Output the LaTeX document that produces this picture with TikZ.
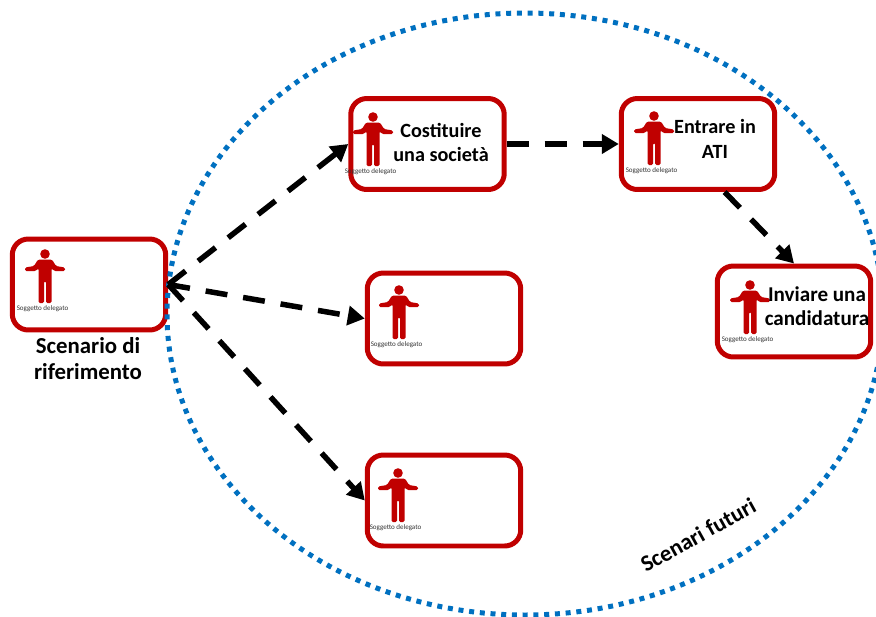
\documentclass[tikz,border=0pt]{standalone}
\usepackage{fontspec}
\setmainfont{Carlito}
\usetikzlibrary{arrows.meta}
\definecolor{boxred}{HTML}{C00000}
\definecolor{ringblue}{HTML}{0070C0}
\tikzset{scenario/.style={draw=boxred,line width=.1cm,rounded corners=.32cm,minimum width=3.07cm,minimum height=1.82cm},
 caption/.style={font=\fontsize{13}{15.2}\selectfont\bfseries,align=center},
 inner caption/.style={font=\fontsize{11.5}{13.8}\selectfont\bfseries,align=center},
 tiny label/.style={font=\fontsize{4}{4.5}\selectfont,text=black!80,inner sep=0pt},
 link/.style={-{Triangle[length=.34cm,width=.38cm]},line width=.11cm,dash pattern=on .44cm off .32cm},
 ring/.style={draw=ringblue,line width=.1cm,dash pattern=on .1cm off .115cm},
 personicon/.pic={
  \fill[boxred] (0,0) circle (4.8);
  \fill[boxred,rounded corners=.03cm] (0,5.5) -- (7,5.5) -- (11,12) -- (20,13.5) -- (20,17) -- (9,17) -- (6.5,14) -- (6.5,49) -- (1,49) -- (1,27) -- (-1,27) -- (-1,49) -- (-6.5,49) -- (-6.5,14) -- (-9,17) -- (-20,17) -- (-20,13.5) -- (-11,12) -- (-7,5.5) -- cycle;
  \node[tiny label] (-tag) at (-2.5,55) {Soggetto delegato};
 },
}

\begin{document}
\begin{tikzpicture}[x=.02cm,y=-.02cm]
    \useasboundingbox (0,0) rectangle (876,616);
    \node[scenario] (current) at (89,284.5) {};
    \node[scenario] (company) at (427.5,144) {};
    \node[scenario] (ati) at (698,144) {};
    \node[scenario] (apply) at (794,311.5) {};
    \node[scenario] (emptyA) at (444,318.5) {};
    \node[scenario] (emptyB) at (444,500.5) {};
    \pic (p0) at (45,254) {personicon};
    \pic (p1) at (373,117) {personicon};
    \pic (p2) at (654,116) {personicon};
    \pic (p3) at (750,285) {personicon};
    \pic (p4) at (399,290) {personicon};
    \pic (p5) at (398,473) {personicon};
    \node[caption] (currentText) at (88,358.5) {Scenario di\\riferimento};
    \node[inner caption] (companyText) at (441,142.5) {Costituire\\una società};
    \node[inner caption] (atiText) at (715,139) {Entrare in\\ATI};
    \node[inner caption,font=\fontsize{12}{13.6}\selectfont\bfseries] (applyText) at (817,306) {Inviare una\\candidatura};
    \node[caption,rotate=29] (futureText) at (698,535) {Scenari futuri};
    \draw[ring] (525,314) ellipse [x radius=358,y radius=301];
    \draw[link] (current.east) -- (company.west);
    \draw[link] (current.east) -- (emptyA.west);
    \draw[link] (current.east) -- (emptyB.west);
    \draw[link] (company.east) -- (ati.west);
    \draw[link] (ati.-61) -- (apply.north);
\end{tikzpicture}
\end{document}
